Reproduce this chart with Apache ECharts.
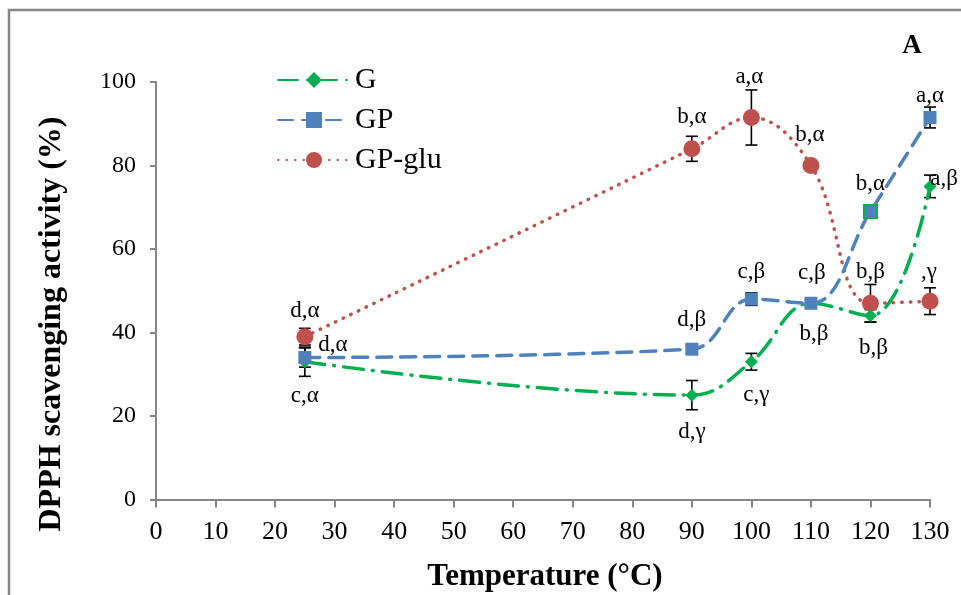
<!DOCTYPE html>
<html>
<head>
<meta charset="utf-8">
<title>DPPH scavenging activity vs temperature</title>
<script src="https://cdn.jsdelivr.net/npm/echarts@6/dist/echarts.min.js"></script>
<style>
  html, body { margin: 0; padding: 0; background: #fff; }
  #chart { width: 961px; height: 595px; }
</style>
</head>
<body>
<div id="chart"></div>
<script>
// Heating temperatures (°C)
const temps = [25, 90, 100, 110, 120, 130];
const xTicks = [0, 10, 20, 30, 40, 50, 60, 70, 80, 90, 100, 110, 120, 130];
const yTicks = [0, 20, 40, 60, 80, 100];

// DPPH scavenging activity (%) per sample
const gValues = [33, 25, 33, 47, 44, 75];
const gpValues = [34, 36, 48, 47, 69, 91.5];
const gpGluValues = [39, 84, 91.5, 80, 47, 47.5];

// Standard deviations
const gErrors = [3.5, 3.5, 2, 0.5, 1.5, 2.7];
const gpErrors = [2.3, 1, 1.5, 0.5, 0.5, 2.5];
const gpGluErrors = [2, 3, 6.6, 0.5, 4.5, 3.2];

// Significance letters
const gLetters = ['c,α', 'd,γ', 'c,γ', 'b,β', 'b,β', 'a,β'];
const gpLetters = ['d,α', 'd,β', 'c,β', 'c,β', 'b,α', 'a,α'];
const gpGluLetters = ['d,α', 'b,α', 'a,α', 'b,α', 'b,β', ',γ'];

// Label offsets from each marker centre (px)
const gLabelOffsets = [[0, 34], [0, 37], [5, 33], [3, 31], [3, 32], [14, -7]];
const gpLabelOffsets = [[28, -13], [0, -29], [0, -27], [1, -30], [0, -27], [0, -22]];
const gpGluLabelOffsets = [[0, -26], [0, -32], [-2, -41], [-1, -31], [0, -31], [-1, -29]];

const FONT = '"Liberation Serif", "Times New Roman", serif';
const AXIS_GRAY = '#868686';
const GREEN = '#00B050';
const BLUE = '#4F81BD';
const RED = '#C0504D';

function lineData(values, letters, offsets, extraStyle) {
  return values.map((v, i) => {
    const item = {
      value: [temps[i], v],
      label: {
        show: true,
        position: 'inside',
        offset: offsets[i],
        formatter: letters[i],
        color: '#000',
        fontFamily: FONT,
        fontSize: 23
      }
    };
    if (extraStyle && extraStyle[i]) item.itemStyle = extraStyle[i];
    return item;
  });
}

function errorData(values, errors) {
  return values.map((v, i) => [temps[i], v - errors[i], v + errors[i]]);
}

function renderErrorBar(params, api) {
  const x = api.value(0);
  const lo = api.coord([x, api.value(1)]);
  const hi = api.coord([x, api.value(2)]);
  const half = 6;
  const style = { stroke: '#000', lineWidth: 1.6 };
  return {
    type: 'group',
    children: [
      { type: 'line', shape: { x1: lo[0], y1: lo[1], x2: hi[0], y2: hi[1] }, style },
      { type: 'line', shape: { x1: lo[0] - half, y1: lo[1], x2: lo[0] + half, y2: lo[1] }, style },
      { type: 'line', shape: { x1: hi[0] - half, y1: hi[1], x2: hi[0] + half, y2: hi[1] }, style }
    ]
  };
}

function errorSeries(values, errors) {
  return {
    type: 'custom',
    renderItem: renderErrorBar,
    data: errorData(values, errors),
    encode: { x: 0, y: [1, 2] },
    z: 1,
    silent: true
  };
}

const chart = echarts.init(document.getElementById('chart'), null, { renderer: 'canvas' });

chart.setOption({
  backgroundColor: '#fff',
  animation: false,
  grid: { left: 156, right: 31, top: 82, bottom: 95.5, containLabel: false },
  legend: {
    orient: 'vertical',
    left: 272,
    top: 55,
    itemWidth: 72,
    itemHeight: 20,
    itemGap: 0,
    data: ['G', 'GP', 'GP-glu'],
    textStyle: { fontFamily: FONT, fontSize: 30, color: '#000', lineHeight: 40 }
  },
  xAxis: {
    type: 'value',
    min: 0,
    max: 130,
    interval: 10,
    splitLine: { show: false },
    axisLine: { show: true, lineStyle: { color: AXIS_GRAY, width: 2 } },
    axisTick: { show: true, inside: false, length: 8, lineStyle: { color: AXIS_GRAY, width: 2 } },
    axisLabel: {
      margin: 20,
      fontFamily: FONT,
      fontSize: 26,
      color: '#000',
      formatter: v => (xTicks.includes(v) ? String(v) : '')
    }
  },
  yAxis: {
    type: 'value',
    min: 0,
    max: 100,
    interval: 20,
    splitLine: { show: false },
    axisLine: { show: true, lineStyle: { color: AXIS_GRAY, width: 2 } },
    axisTick: { show: true, inside: false, length: 6, lineStyle: { color: AXIS_GRAY, width: 2 } },
    axisLabel: {
      margin: 20,
      fontFamily: FONT,
      fontSize: 24,
      color: '#000',
      formatter: v => (yTicks.includes(v) ? String(v) : '')
    }
  },
  graphic: [
    {
      type: 'rect',
      silent: true,
      z: -10,
      shape: { x: 9, y: 10, width: 1000, height: 1000 },
      style: { fill: 'none', stroke: AXIS_GRAY, lineWidth: 2.5 }
    },
    {
      type: 'text',
      x: 545,
      y: 577,
      style: {
        text: 'Temperature (°C)',
        font: 'bold 31px ' + FONT,
        fill: '#000',
        textAlign: 'center',
        textVerticalAlign: 'middle'
      }
    },
    {
      type: 'text',
      x: 52,
      y: 324,
      rotation: Math.PI / 2,
      style: {
        text: 'DPPH scavenging activity (%)',
        font: 'bold 32px ' + FONT,
        fill: '#000',
        textAlign: 'center',
        textVerticalAlign: 'middle'
      }
    },
    {
      type: 'text',
      x: 912,
      y: 46,
      style: {
        text: 'A',
        font: 'bold 27px ' + FONT,
        fill: '#000',
        textAlign: 'center',
        textVerticalAlign: 'middle'
      }
    }
  ],
  series: [
    errorSeries(gValues, gErrors),
    errorSeries(gpValues, gpErrors),
    errorSeries(gpGluValues, gpGluErrors),
    {
      name: 'GP-glu',
      type: 'line',
      smooth: 0.4,
      symbol: 'circle',
      symbolSize: 17,
      z: 2,
      itemStyle: { color: RED },
      lineStyle: { color: RED, width: 3.5, type: [0.5, 8], cap: 'round' },
      data: lineData(gpGluValues, gpGluLetters, gpGluLabelOffsets)
    },
    {
      name: 'GP',
      type: 'line',
      smooth: 0.4,
      symbol: 'rect',
      symbolSize: 13,
      z: 3,
      itemStyle: { color: BLUE },
      lineStyle: { color: BLUE, width: 3.5, type: [15, 9], cap: 'round' },
      data: lineData(gpValues, gpLetters, gpLabelOffsets,
        { 4: { borderColor: GREEN, borderWidth: 2 } })
    },
    {
      name: 'G',
      type: 'line',
      smooth: 0.4,
      symbol: 'diamond',
      symbolSize: 13,
      z: 2,
      itemStyle: { color: GREEN },
      lineStyle: { color: GREEN, width: 3.5, type: [20, 9, 1, 9], cap: 'round' },
      data: lineData(gValues, gLetters, gLabelOffsets)
    }
  ]
});
</script>
</body>
</html>
